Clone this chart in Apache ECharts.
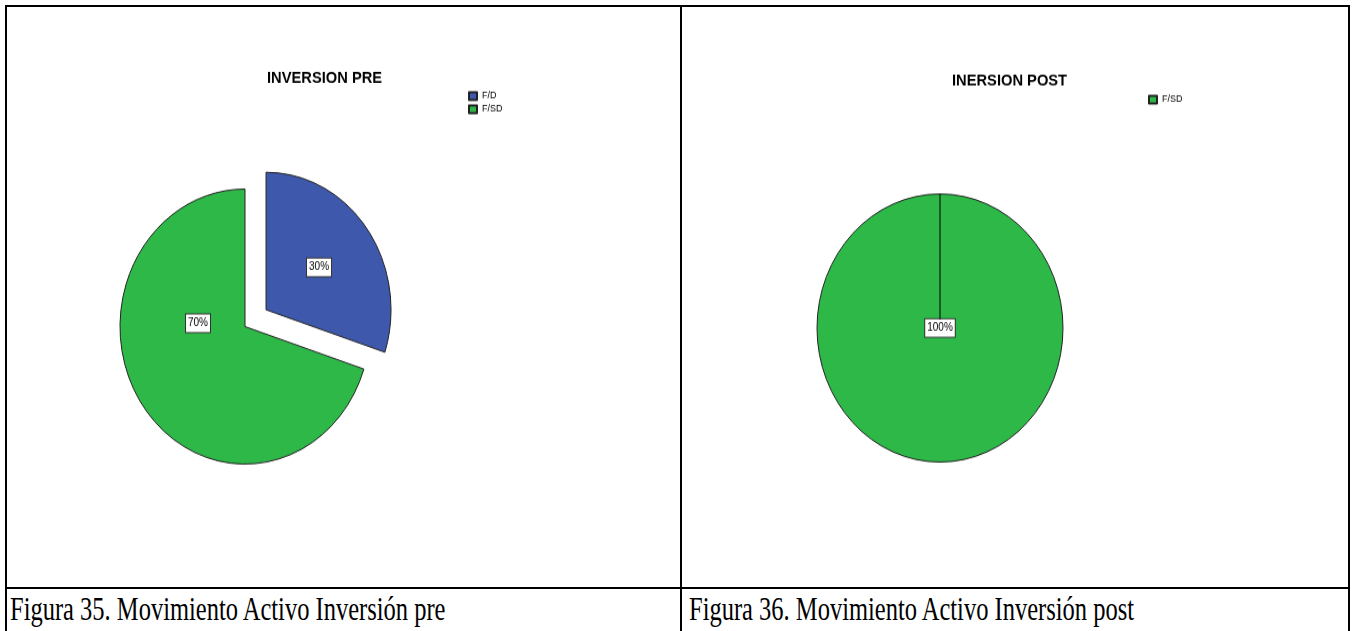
<!DOCTYPE html>
<html>
<head>
<meta charset="utf-8">
<title>Movimiento Activo Inversión</title>
<script src="https://cdn.jsdelivr.net/npm/echarts@6/dist/echarts.min.js"></script>
<style>
  html, body { margin: 0; padding: 0; background: #fff; }
  body { width: 1352px; height: 631px; position: relative; overflow: hidden; }
  .rule { position: absolute; background: #000; }
  .chart { position: absolute; transform-origin: 0 0; }
  .caption {
    position: absolute;
    font-family: "Liberation Serif", "Times New Roman", serif;
    font-size: 24.5px;
    line-height: 24.5px;
    white-space: nowrap;
    color: #000;
    transform-origin: 0 0;
    transform: scaleY(1.4);
  }
</style>
</head>
<body>
<!-- table frame -->
<div class="rule" style="left:5px;top:5px;width:1345px;height:2px"></div>
<div class="rule" style="left:5px;top:5px;width:2px;height:626px"></div>
<div class="rule" style="left:680px;top:5px;width:2px;height:626px"></div>
<div class="rule" style="left:1348px;top:5px;width:2px;height:626px"></div>
<div class="rule" style="left:5px;top:587px;width:1345px;height:2px"></div>

<div id="pre" class="chart" style="left:7px;top:7px;width:673px;height:527px;transform:scaleY(1.1)"></div>
<div id="post" class="chart" style="left:682px;top:7px;width:666px;height:532px;transform:scaleY(1.09)"></div>

<div id="cap-pre" class="caption" style="left:10px;top:592px"></div>
<div id="cap-post" class="caption" style="left:689px;top:592px"></div>

<script>
// Categories and shares (%) for each chart
const preCategories = ['F/D', 'F/SD'];
const preValues = [30, 70];
const postCategories = ['F/SD'];
const postValues = [100];

const preTitle = 'INVERSION PRE';
const postTitle = 'INERSION POST';
const captionTexts = [
  'Figura 35. Movimiento Activo Inversión pre',
  'Figura 36. Movimiento Activo Inversión post'
];

const sliceColors = { 'F/D': '#3E58AC', 'F/SD': '#2EB848' };

document.getElementById('cap-pre').textContent = captionTexts[0];
document.getElementById('cap-post').textContent = captionTexts[1];

const sansFont = '"Liberation Sans", Arial, sans-serif';

function buildPie(el, cfg) {
  const chart = echarts.init(el, null, { renderer: 'canvas' });
  const option = {
    animation: false,
    backgroundColor: 'transparent',
    title: {
      text: cfg.title,
      left: cfg.titleLeft,
      top: cfg.titleTop,
      padding: 0,
      textStyle: { fontFamily: sansFont, fontSize: 14.7, fontWeight: 'bold', color: '#000' }
    },
    legend: {
      orient: 'vertical',
      left: cfg.legendLeft,
      top: cfg.legendTop,
      padding: 0,
      itemWidth: 8,
      itemHeight: 7,
      itemGap: 3,
      icon: 'rect',
      selectedMode: false,
      data: cfg.categories,
      textStyle: { fontFamily: sansFont, fontSize: 9, lineHeight: 7, color: '#000' }
    },
    series: [{
      type: 'pie',
      center: cfg.center,
      radius: cfg.radius,
      startAngle: 90,
      clockwise: true,
      selectedMode: 'single',
      selectedOffset: 26,
      silent: true,
      itemStyle: { borderColor: '#222', borderWidth: 1 },
      label: {
        show: true,
        position: cfg.labelPosition,
        formatter: p => Math.round(p.percent) + '%',
        fontFamily: sansFont,
        fontSize: 10,
        lineHeight: 12,
        color: '#000',
        backgroundColor: '#fff',
        borderColor: '#333',
        borderWidth: 1,
        padding: [2, 2, 2, 2]
      },
      labelLine: { show: false },
      labelLayout: cfg.labelLayout,
      data: cfg.categories.map((name, i) => ({
        name: name,
        value: cfg.values[i],
        selected: name === cfg.exploded,
        itemStyle: { color: sliceColors[name] }
      }))
    }],
    graphic: cfg.graphic || []
  };
  chart.setOption(option);
  return chart;
}

// Left: pre-investment pie with the F/D slice pulled out
const preCenter = [238, 290.5];
buildPie(document.getElementById('pre'), {
  title: preTitle,
  titleLeft: 260,
  titleTop: 57,
  legendLeft: 461,
  legendTop: 76.5,
  categories: preCategories,
  values: preValues,
  center: preCenter,
  radius: 125,
  exploded: 'F/D',
  labelPosition: 'inside',
  labelLayout: function (params) {
    // the large slice keeps its label just left of the centre
    if (params.dataIndex === 1) {
      return { x: preCenter[0] - 47, y: preCenter[1] - 3 };
    }
    return {};
  }
});

// Right: post-investment pie, a single full slice
const postCenter = [258, 294.5];
const postRadius = 123;
buildPie(document.getElementById('post'), {
  title: postTitle,
  titleLeft: 270,
  titleTop: 60,
  legendLeft: 466,
  legendTop: 80.5,
  categories: postCategories,
  values: postValues,
  center: postCenter,
  radius: postRadius,
  exploded: null,
  labelPosition: 'center',
  graphic: [{
    type: 'line',
    z: 100,
    shape: {
      x1: postCenter[0], y1: postCenter[1] - postRadius,
      x2: postCenter[0], y2: postCenter[1] - 8
    },
    style: { stroke: '#000', lineWidth: 1 }
  }]
});
</script>
</body>
</html>
